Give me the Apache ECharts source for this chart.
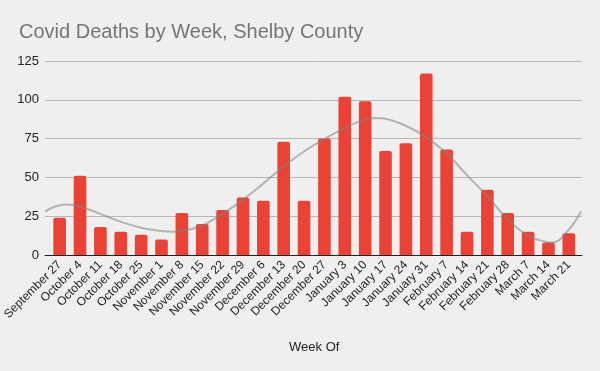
<!DOCTYPE html>
<html>
<head>
<meta charset="utf-8">
<script src="https://cdn.jsdelivr.net/npm/echarts@6/dist/echarts.min.js"></script>
<style>
html,body{margin:0;padding:0;background:#efefef;}
#chart{width:600px;height:371px;}
</style>
</head>
<body>
<div id="chart"></div>
<script>
var categories = ["September 27","October 4","October 11","October 18","October 25","November 1","November 8","November 15","November 22","November 29","December 6","December 13","December 20","December 27","January 3","January 10","January 17","January 24","January 31","February 7","February 14","February 21","February 28","March 7","March 14","March 21"];
var deaths = [24,51,18,15,13,10,27,20,29,37,35,73,35,75,102,99,67,72,117,68,15,42,27,15,8,14];
// trendline (position in category index units, value)
var trendX = [-0.71,-0.3,0.3,1,2,3,4,5,5.5,6,7,8,9,10,11,12,13,14,15,15.6,16,17,18,19,20,21,22,23,24,24.2,25,25.6];
var trendY = [28,30.8,32.5,31.2,26.5,21.5,17.6,15.5,15.0,15.4,19,26.5,35.5,46,57,66.7,74.7,81.8,87.2,88.2,87.8,83.3,76,65.5,51.5,38,23,12.5,8.2,8.0,16.3,28];
var yTicks = [0,25,50,75,100,125];

var trendData = trendX.map(function(x,i){return [x,trendY[i]];});
var FONT = '"Liberation Sans", Arial, sans-serif';
var chart = echarts.init(document.getElementById('chart'), null, {renderer:'canvas'});
chart.setOption({
  backgroundColor:'#efefef',
  animation:false,
  title:{text:'Covid Deaths by Week, Shelby County', left:14, top:17,
    textStyle:{fontFamily:FONT, fontSize:20, fontWeight:'normal', color:'#757575'}},
  grid:[
    {left:49, right:21, top:61, bottom:116},
    {left:45, right:18, top:61, bottom:116}
  ],
  xAxis:[
    {type:'category', gridIndex:0, data:categories,
     axisLine:{show:false}, axisTick:{show:false},
     axisLabel:{interval:0, rotate:45, margin:8, fontFamily:FONT, fontSize:12, color:'#222'},
     name:'Week Of', nameLocation:'middle', nameGap:86,
     nameTextStyle:{fontFamily:FONT, fontSize:13, color:'#222'}},
    {type:'value', gridIndex:1, min:-0.71, max:25.65,
     axisLine:{show:true, onZero:false, lineStyle:{color:'#222', width:1}},
     axisTick:{show:false}, axisLabel:{show:false}, splitLine:{show:false}}
  ],
  yAxis:[
    {type:'value', gridIndex:0, min:yTicks[0], max:yTicks[yTicks.length-1], interval:25,
     show:false},
    {type:'value', gridIndex:1, min:yTicks[0], max:yTicks[yTicks.length-1], interval:25,
     axisLine:{show:false}, axisTick:{show:false},
     axisLabel:{margin:6, fontFamily:FONT, fontSize:13, color:'#222'},
     splitLine:{lineStyle:{color:'#b7b7b7', width:1}}}
  ],
  series:[
    {type:'bar', xAxisIndex:0, yAxisIndex:0, data:deaths, barWidth:'62%',
     itemStyle:{color:'#ea4335', borderRadius:[2,2,0,0]}, z:2},
    {type:'line', xAxisIndex:1, yAxisIndex:1, data:trendData, smooth:0.4,
     showSymbol:false, symbol:'none',
     lineStyle:{color:'rgba(130,130,130,0.55)', width:2}, z:5}
  ]
});
</script>
</body>
</html>
